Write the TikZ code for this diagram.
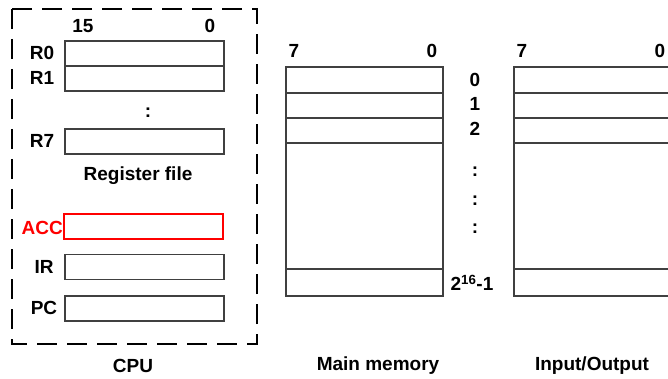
\documentclass[tikz,border=0pt]{standalone}
\usepackage{fontspec}
\setmainfont{Liberation Sans}
\usetikzlibrary{positioning}

\begin{document}
\begin{tikzpicture}[x=1pt, y=-1pt,
  font=\fontsize{19}{21}\selectfont\bfseries]
\tikzset{
  reg/.style={draw=black!75, line width=1.3pt, minimum width=159pt,
    minimum height=25pt, inner sep=0pt, outer sep=0pt},
  accreg/.style={reg, draw=red, line width=2pt},
  cell/.style={draw=black!75, line width=1.3pt, minimum width=157pt,
    inner sep=0pt, outer sep=0pt},
  rname/.style={anchor=center, inner sep=0pt},
  bitno/.style={inner sep=0pt},
  caption/.style={inner sep=0pt},
  cpubox/.style={line width=2.7pt, dash pattern=on 20pt off 10pt},
}
\useasboundingbox (0,0) rectangle (668,379);
\clip (0,0) rectangle (668,379);

% ---- CPU ----
\draw[cpubox] (12,9) rectangle (257,344);
\node[bitno] (cpu-hi) at (83,26) {15};
\node[bitno] (cpu-lo) at (210,26) {0};
\node[reg] (r0) at (144.5,53.5) {};
\node[reg, below=0pt of r0] (r1) {};
\node[rname] (r0-name) at (42,53) {R0};
\node[rname] (r1-name) at (42,78) {R1};
\node[bitno] (rdots) at (148,113) {:};
\node[reg] (r7) at (144.5,141.5) {};
\node[rname] (r7-name) at (42,141) {R7};
\node[caption] (rfile) at (138,176) {Register file};
% accumulator
\node[accreg] (acc) at (143.5,226.5) {};
\node[rname, text=red, anchor=east] (acc-name) at (63,228) {ACC};
\node[reg] (ir) at (144.5,267) {};
\node[rname] (ir-name) at (44,267) {IR};
\node[reg] (pc) at (144.5,308.5) {};
\node[rname] (pc-name) at (44,308) {PC};
\node[caption] (cpu) at (133,366) {CPU};

% ---- memory and I/O columns ----
\foreach \nm/\xc in {mm/364.5, io/592.5}{
  \node[cell, minimum height=26pt] (\nm-0) at (\xc,80) {};
  \node[cell, minimum height=25pt] (\nm-1) at (\xc,105.5) {};
  \node[cell, minimum height=25pt] (\nm-2) at (\xc,130.5) {};
  \node[cell, minimum height=126pt] (\nm-gap) at (\xc,206) {};
  \node[cell, minimum height=27pt] (\nm-last) at (\xc,282.5) {};
  \node[bitno] (\nm-hi) at (\xc-70.5,51) {7};
  \node[bitno] (\nm-lo) at (\xc+67.5,51) {0};
}
% addresses
\node[bitno] (a0) at (475,80) {0};
\node[bitno] (a1) at (475,104) {1};
\node[bitno] (a2) at (475,129) {2};
\foreach \yy [count=\k] in {172,201,229}
  \node[bitno] (adots\k) at (475,\yy) {:};
\node[bitno] (alast) at (472,283) {2\textsuperscript{16}-1};

\node[caption] (mm) at (378,366) {Main memory};
\node[caption] (io) at (592,366) {Input/Output};

\end{tikzpicture}
\end{document}
